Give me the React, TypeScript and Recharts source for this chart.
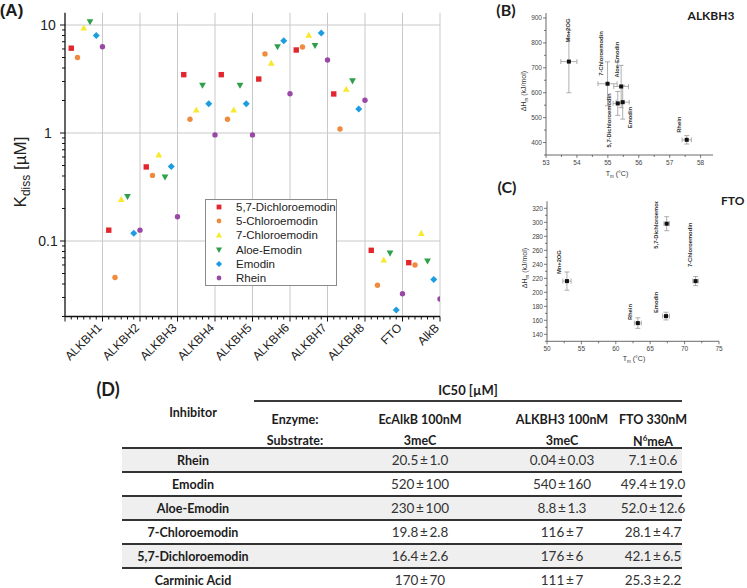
import React from 'react'
import { ScatterChart, Scatter, XAxis, YAxis, ReferenceLine, Legend, ErrorBar } from 'recharts'

// ---- (A) K_diss per enzyme, µM ----
const ENZYMES = ['ALKBH1', 'ALKBH2', 'ALKBH3', 'ALKBH4', 'ALKBH5', 'ALKBH6', 'ALKBH7', 'ALKBH8', 'FTO', 'AlkB']
const COMPOUNDS = ['5,7-Dichloroemodin', '5-Chloroemodin', '7-Chloroemodin', 'Aloe-Emodin', 'Emodin', 'Rhein']
const KD_DICHLORO = [6.1, 0.126, 0.485, 3.47, 3.47, 3.16, 5.87, 2.3, 0.082, 0.063]
const KD_5CHLORO = [5.0, 0.046, 0.405, 1.34, 1.34, 5.4, 6.26, 1.09, 0.039, 0.06]
const KD_7CHLORO = [9.4, 0.243, 0.63, 1.64, 1.64, 4.45, 8.08, 2.55, 0.067, 0.118]
const KD_ALOE = [10.7, 0.257, 0.39, 2.76, 2.76, 6.26, 6.44, 3.03, 0.077, 0.065]
const KD_EMODIN = [8.0, 0.118, 0.49, 1.87, 1.87, 7.16, 8.44, 1.67, 0.023, 0.044]
const KD_RHEIN = [6.3, 0.126, 0.168, 0.96, 0.96, 2.31, 4.74, 2.01, 0.0325, 0.029]
const A_Y_MAJOR = [0.1, 1, 10]
const A_Y_LABELS = ['0.1', '1', '10']

// ---- (B) ALKBH3 thermal shift ----
const B_NAMES = ['Mn+2OG', '7-Chloroemodin', 'Aloe-Emodin', '5,7-Dichloroemodin', 'Emodin', 'Rhein']
const B_TM = [53.74, 54.99, 55.43, 55.32, 55.48, 57.55]
const B_DH = [725, 636, 625, 557, 562, 411]
const B_TM_ERR = [0.26, 0.31, 0.24, 0.15, 0.21, 0.15]
const B_DH_ERR = [125, 88, 85, 48, 68, 17]

// ---- (C) FTO thermal shift ----
const C_NAMES = ['Mn+2OG', 'Rhein', 'Emodin', '5,7-Dichloroemodin', '7-Chloroemodin']
const C_TM = [52.9, 63.2, 67.3, 67.4, 71.6]
const C_DH = [216, 156, 166, 298, 216]
const C_TM_ERR = [0.6, 0.5, 0.5, 0.4, 0.4]
const C_DH_ERR = [13, 7.5, 5.5, 10, 6.5]

// ---- (D) IC50 table ----
const INHIBITORS = ['Rhein', 'Emodin', 'Aloe-Emodin', '7-Chloroemodin', '5,7-Dichloroemodin', 'Carminic Acid']
const IC50_ECALKB = ['20.5 ± 1.0', '520 ± 100', '230 ± 100', '19.8 ± 2.8', '16.4 ± 2.6', '170 ± 70']
const IC50_ALKBH3 = ['0.04 ± 0.03', '540 ± 160', '8.8 ± 1.3', '116 ± 7', '176 ± 6', '111 ± 7']
const IC50_FTO = ['7.1 ± 0.6', '49.4 ± 19.0', '52.0 ± 12.6', '28.1 ± 4.7', '42.1 ± 6.5', '25.3 ± 2.2']
const ENZYME_HEAD = ['EcAlkB 100nM', 'ALKBH3 100nM', 'FTO 330nM']
const SUBSTRATES = ['3meC', '3meC', 'N6meA']

const SANS = '"Liberation Sans", Arial, sans-serif'
const CAL = 'Lato, "Open Sans", sans-serif'

const A_COLORS = ['#e3262d', '#f08a3e', '#f6e92e', '#2e9f4b', '#1d9de0', '#9a48a6']
const A_SHAPES = ['square', 'circle', 'up', 'down', 'diamond', 'circle']
const KD = [KD_DICHLORO, KD_5CHLORO, KD_7CHLORO, KD_ALOE, KD_EMODIN, KD_RHEIN]

// label offsets (dx, dy) from each point, rotated text
const B_LABEL_POS: Record<string, [number, number]> = {
  'Mn+2OG': [1, -19],
  '7-Chloroemodin': [-5, -8],
  'Aloe-Emodin': [-2, -9],
  '5,7-Dichloroemodin': [-6.5, 44],
  Emodin: [9.5, 26],
  Rhein: [-5.5, -7],
}
const C_LABEL_POS: Record<string, [number, number]> = {
  'Mn+2OG': [-6, -7],
  Rhein: [-5.5, -3],
  Emodin: [-8, -3],
  '5,7-Dichloroemodin': [-8.5, 25],
  '7-Chloroemodin': [-4, -14],
}

function Marker({ kind, cx, cy, color, s = 2.7 }: { kind: string; cx: number; cy: number; color: string; s?: number }) {
  if (kind === 'square') return <rect x={cx - s} y={cy - s} width={2 * s} height={2 * s} fill={color} />
  if (kind === 'circle') return <circle cx={cx} cy={cy} r={s} fill={color} />
  if (kind === 'up') {
    const r = s * 1.25
    return <polygon points={`${cx},${cy - r} ${cx + r},${cy + r * 0.8} ${cx - r},${cy + r * 0.8}`} fill={color} />
  }
  if (kind === 'down') {
    const r = s * 1.25
    return <polygon points={`${cx},${cy + r} ${cx + r},${cy - r * 0.8} ${cx - r},${cy - r * 0.8}`} fill={color} />
  }
  const r = s * 1.3
  return <polygon points={`${cx},${cy - r} ${cx + r},${cy} ${cx},${cy + r} ${cx - r},${cy}`} fill={color} />
}

function AXTick(props: any) {
  const { x, y, payload } = props
  const v = payload.value as number
  const k = Math.round(v)
  const major = Math.abs(v - k) < 1e-6
  return (
    <g>
      <line x1={x} x2={x} y1={y} y2={y + (major ? 5 : 3)} stroke="#111" />
      {major && k >= 1 && (
        <text
          x={x}
          y={y + 12}
          transform={`rotate(-45 ${x} ${y + 12})`}
          textAnchor="end"
          fontSize={12}
          fontFamily={SANS}
          fill="#222"
        >
          {ENZYMES[k - 1]}
        </text>
      )}
    </g>
  )
}

function AYTick(props: any) {
  const { x, y, payload } = props
  const v = payload.value as number
  const mi = A_Y_MAJOR.findIndex((m) => Math.abs(m - v) < 1e-9)
  return (
    <g>
      <line x1={x} x2={x - (mi >= 0 ? 5 : 3)} y1={y} y2={y} stroke="#111" />
      {mi >= 0 && (
        <text x={x - 17} y={y + 5} textAnchor="middle" fontSize={14} fontFamily={SANS} fill="#222">
          {A_Y_LABELS[mi]}
        </text>
      )}
    </g>
  )
}

function makeXTick(majorStep: number) {
  return (props: any) => {
    const { x, y, payload } = props
    const v = payload.value as number
    const major = Math.abs(v / majorStep - Math.round(v / majorStep)) < 1e-6
    return (
      <g>
        <line x1={x} x2={x} y1={y} y2={y + (major ? 3 : 2)} stroke="#444" strokeWidth={0.7} />
        {major && (
          <text x={x} y={y + 10} textAnchor="middle" fontSize={6.5} fontFamily={SANS} fill="#444">
            {v}
          </text>
        )}
      </g>
    )
  }
}

function makeYTick(majorStep: number) {
  return (props: any) => {
    const { x, y, payload } = props
    const v = payload.value as number
    const major = Math.abs(v / majorStep - Math.round(v / majorStep)) < 1e-6
    return (
      <g>
        <line x1={x} x2={x - (major ? 3 : 2)} y1={y} y2={y} stroke="#444" strokeWidth={0.7} />
        {major && (
          <text x={x - 4} y={y + 2.3} textAnchor="end" fontSize={6.5} fontFamily={SANS} fill="#444">
            {v}
          </text>
        )}
      </g>
    )
  }
}

function makeDotShape(pos: Record<string, [number, number]>) {
  return (props: any) => {
    const { cx, cy, payload } = props
    const [dx, dy] = pos[payload.name] ?? [0, 0]
    const tx = cx + dx
    const ty = cy + dy
    return (
      <g>
        <rect x={cx - 2} y={cy - 2} width={4} height={4} fill="#111" />
        <text
          x={tx}
          y={ty}
          transform={`rotate(-90 ${tx} ${ty})`}
          fontSize={5.8}
          fontWeight="bold"
          fontFamily={SANS}
          fill="#333"
        >
          {payload.name}
        </text>
      </g>
    )
  }
}

function range(from: number, to: number, step: number) {
  const out: number[] = []
  for (let v = from; v <= to + 1e-9; v += step) out.push(Number(v.toFixed(4)))
  return out
}

const A_X_TICKS = range(0, 10, 1 / 6)
const A_Y_TICKS: number[] = []
for (const d of [0.01, 0.1, 1]) {
  for (let m = 2; m <= 9; m++) {
    const v = Number((m * d).toPrecision(3))
    if (v >= 0.02) A_Y_TICKS.push(v)
  }
}
A_Y_TICKS.push(0.1, 1, 10)
A_Y_TICKS.sort((a, b) => a - b)

function ALegend() {
  return (
    <div
      style={{
        border: '1px solid #8a8a8a',
        background: '#fff',
        width: 132,
        boxSizing: 'border-box',
        fontFamily: SANS,
        fontSize: 11.5,
        color: '#222',
      }}
    >
      {COMPOUNDS.map((c, i) => (
        <div key={c} style={{ display: 'flex', alignItems: 'center', height: 14.2 }}>
          <svg width={30} height={14} style={{ flex: 'none' }}>
            <Marker kind={A_SHAPES[i]} cx={13} cy={7} color={A_COLORS[i]} s={2.4} />
          </svg>
          <span style={{ whiteSpace: 'nowrap' }}>{c}</span>
        </div>
      ))}
    </div>
  )
}

function PanelA() {
  return (
    <div style={{ position: 'absolute', left: 0, top: 0 }}>
      <ScatterChart width={460} height={380} margin={{ top: 12.7, right: 20, bottom: 13.5, left: 5 }}>
        <XAxis
          type="number"
          dataKey="x"
          domain={[0, 10]}
          ticks={A_X_TICKS}
          interval={0}
          tickSize={0}
          tickMargin={0}
          tickLine={false}
          tick={<AXTick />}
          axisLine={{ stroke: '#111', strokeWidth: 1.3 }}
          height={50}
          allowDataOverflow
        />
        <YAxis
          type="number"
          dataKey="y"
          scale="log"
          domain={[0.02, 13]}
          ticks={A_Y_TICKS}
          interval={0}
          tickSize={0}
          tickMargin={0}
          tickLine={false}
          tick={<AYTick />}
          axisLine={{ stroke: '#111', strokeWidth: 1.3 }}
          width={60}
          allowDataOverflow
          label={{
            content: () => (
              <text
                x={26}
                y={172}
                transform="rotate(-90 26 172)"
                textAnchor="middle"
                fontSize={17}
                fontFamily={SANS}
                fill="#222"
              >
                K<tspan dy={4} fontSize={12}>diss</tspan>
                <tspan dy={-4}> [µM]</tspan>
              </text>
            ),
          }}
        />
        {A_Y_MAJOR.map((v) => (
          <ReferenceLine key={'h' + v} y={v} stroke="#c9c9c9" strokeWidth={1} />
        ))}
        {ENZYMES.map((e, i) => (
          <ReferenceLine key={'v' + e} x={i + 1} stroke="#c9c9c9" strokeWidth={1} />
        ))}
        {COMPOUNDS.map((c, si) => (
          <Scatter
            key={c}
            name={c}
            data={KD[si].map((v, ci) => ({ x: ci + (si + 1) / 6, y: v }))}
            isAnimationActive={false}
            shape={(p: any) => <Marker kind={A_SHAPES[si]} cx={p.cx} cy={p.cy} color={A_COLORS[si]} />}
          />
        ))}
        <Legend
          layout="vertical"
          align="center"
          verticalAlign="middle"
          content={() => <ALegend />}
          wrapperStyle={{ left: 205, top: 199, width: 132, height: 86 }}
        />
      </ScatterChart>
    </div>
  )
}

function SmallChart(props: {
  left: number
  top: number
  height: number
  margin: { top: number; right: number; bottom: number; left: number }
  names: string[]
  tm: number[]
  dh: number[]
  tmErr: number[]
  dhErr: number[]
  xDomain: [number, number]
  yDomain: [number, number]
  xTicks: number[]
  yTicks: number[]
  xMajor: number
  yMajor: number
  labelPos: Record<string, [number, number]>
  yLabel: [number, number]
  xLabel: [number, number]
}) {
  const data = props.names.map((name, i) => ({
    name,
    x: props.tm[i],
    y: props.dh[i],
    ex: props.tmErr[i],
    ey: props.dhErr[i],
  }))
  const [ylx, yly] = props.yLabel
  const [xlx, xly] = props.xLabel
  return (
    <div style={{ position: 'absolute', left: props.left, top: props.top }}>
      <ScatterChart width={260} height={props.height} margin={props.margin}>
        <XAxis
          type="number"
          dataKey="x"
          domain={props.xDomain}
          ticks={props.xTicks}
          interval={0}
          tickSize={0}
          tickMargin={0}
          tickLine={false}
          tick={makeXTick(props.xMajor)}
          axisLine={{ stroke: '#444', strokeWidth: 0.8 }}
          height={20}
          allowDataOverflow
          label={{
            content: () => (
              <text x={xlx} y={xly} textAnchor="middle" fontSize={7} fontFamily={SANS} fill="#333">
                T<tspan dy={2} fontSize={4.5}>m</tspan>
                <tspan dy={-2}> (°C)</tspan>
              </text>
            ),
          }}
        />
        <YAxis
          type="number"
          dataKey="y"
          domain={props.yDomain}
          ticks={props.yTicks}
          interval={0}
          tickSize={0}
          tickMargin={0}
          tickLine={false}
          tick={makeYTick(props.yMajor)}
          axisLine={{ stroke: '#444', strokeWidth: 0.8 }}
          width={60}
          allowDataOverflow
          label={{
            content: () => (
              <text
                x={ylx}
                y={yly}
                transform={`rotate(-90 ${ylx} ${yly})`}
                textAnchor="middle"
                fontSize={7}
                fontFamily={SANS}
                fill="#333"
              >
                ΔH<tspan dy={2} fontSize={4.5}>m</tspan>
                <tspan dy={-2}> (kJ/mol)</tspan>
              </text>
            ),
          }}
        />
        <Scatter data={data} isAnimationActive={false} shape={makeDotShape(props.labelPos)}>
          <ErrorBar dataKey="ey" direction="y" width={2.5} stroke="#9a9a9a" strokeWidth={0.8} />
          <ErrorBar dataKey="ex" direction="x" width={2.5} stroke="#9a9a9a" strokeWidth={0.8} />
        </Scatter>
      </ScatterChart>
    </div>
  )
}

function Txt(props: {
  x: number
  y: number
  size: number
  bold?: boolean
  font?: string
  align?: 'center' | 'left'
  color?: string
  children: React.ReactNode
}) {
  const { x, y, size, bold, font = CAL, align = 'center', color = '#1c1c1c' } = props
  return (
    <div
      style={{
        position: 'absolute',
        left: x,
        top: y,
        transform: align === 'center' ? 'translate(-50%, -50%)' : 'translate(0, -50%)',
        fontFamily: font,
        fontSize: size,
        fontWeight: bold ? 700 : 400,
        color,
        lineHeight: 1,
        whiteSpace: 'nowrap',
      }}
    >
      {props.children}
    </div>
  )
}

function PanelD() {
  const rowTop = 448
  const pitch = 24
  const colX = [420, 562, 653]
  const cols = [IC50_ECALKB, IC50_ALKBH3, IC50_FTO]
  return (
    <>
      <Txt x={108} y={389} size={18} bold>(D)</Txt>
      <Txt x={468} y={390} size={13} bold>IC50 [µM]</Txt>
      <div style={{ position: 'absolute', left: 254, top: 400, width: 428, height: 2, background: '#3a3a3a' }} />
      <Txt x={193} y={413} size={12.5} bold>Inhibitor</Txt>
      <Txt x={295} y={420} size={12.5} bold>Enzyme:</Txt>
      <Txt x={295} y={441} size={12.5} bold>Substrate:</Txt>
      {ENZYME_HEAD.map((h, i) => (
        <Txt key={h} x={colX[i]} y={420} size={12.5} bold>
          {h}
        </Txt>
      ))}
      {SUBSTRATES.map((s, i) => (
        <Txt key={i} x={colX[i]} y={441} size={12.5} bold>
          {s.startsWith('N6') ? (
            <>
              N<sup style={{ fontSize: 8 }}>6</sup>
              {s.slice(2)}
            </>
          ) : (
            s
          )}
        </Txt>
      ))}
      {INHIBITORS.map((name, r) => {
        const top = rowTop + r * pitch
        return (
          <React.Fragment key={name}>
            {r % 2 === 0 && (
              <div style={{ position: 'absolute', left: 122, top, width: 560, height: pitch, background: '#efefef' }} />
            )}
            <div style={{ position: 'absolute', left: 122, top: top - 1, width: 560, height: 2, background: '#333' }} />
            <Txt x={193} y={top + 12.5} size={12.5} bold>
              {name}
            </Txt>
            {cols.map((col, c) => (
              <Txt key={c} x={colX[c]} y={top + 12.5} size={13.5} color="#333">
                {col[r].replace(/ ± /g, '\u2009±\u2009')}
              </Txt>
            ))}
          </React.Fragment>
        )
      })}
    </>
  )
}

export default function App() {
  return (
    <div style={{ position: 'absolute', left: 0, top: 0, width: 747, height: 588, background: '#fff', overflow: 'hidden' }}>
      <PanelA />
      <Txt x={11.5} y={10} size={17} bold font={SANS}>(A)</Txt>

      <SmallChart
        left={480}
        top={0}
        height={185}
        margin={{ top: 13, right: 27, bottom: 10, left: 6 }}
        names={B_NAMES}
        tm={B_TM}
        dh={B_DH}
        tmErr={B_TM_ERR}
        dhErr={B_DH_ERR}
        xDomain={[53, 58.4]}
        yDomain={[350, 920]}
        xTicks={range(53, 58, 0.5)}
        yTicks={range(350, 900, 50)}
        xMajor={1}
        yMajor={100}
        labelPos={B_LABEL_POS}
        yLabel={[46, 91]}
        xLabel={[137, 176]}
      />
      <Txt x={506} y={10} size={16} bold>(B)</Txt>
      <Txt x={711} y={16} size={12} bold>ALKBH3</Txt>

      <SmallChart
        left={480}
        top={190}
        height={190}
        margin={{ top: 11.3, right: 21, bottom: 18.7, left: 7 }}
        names={C_NAMES}
        tm={C_TM}
        dh={C_DH}
        tmErr={C_TM_ERR}
        dhErr={C_DH_ERR}
        xDomain={[50, 75]}
        yDomain={[130, 330]}
        xTicks={range(50, 75, 2.5)}
        yTicks={range(130, 320, 10)}
        xMajor={5}
        yMajor={20}
        labelPos={C_LABEL_POS}
        yLabel={[47, 78]}
        xLabel={[154, 171]}
      />
      <Txt x={507} y={187} size={16} bold>(C)</Txt>
      <Txt x={721} y={201} size={12} bold align="left">FTO</Txt>

      <PanelD />
    </div>
  )
}
